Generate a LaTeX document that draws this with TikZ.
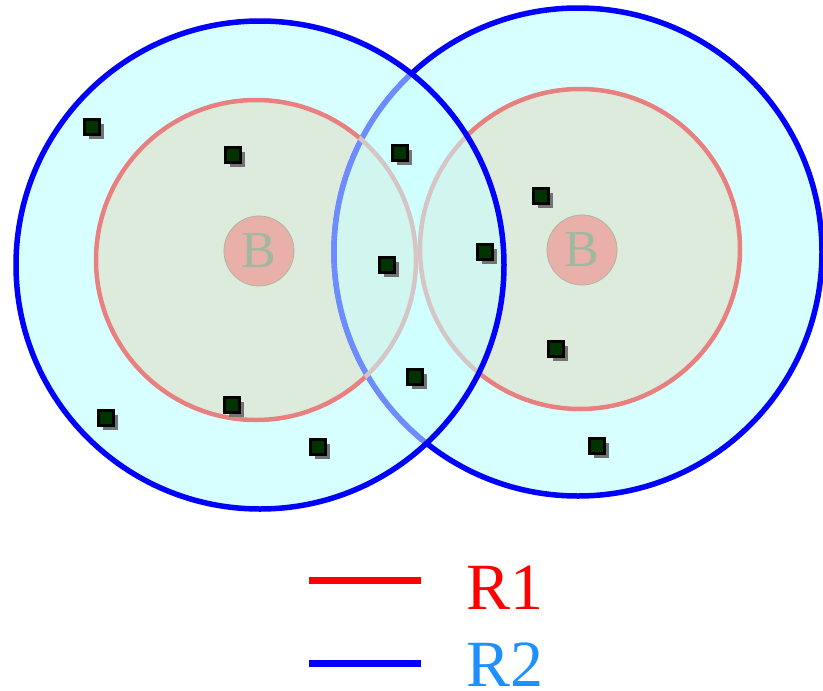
\documentclass[tikz,border=0pt]{standalone}
\usepackage{fontspec}
\setmainfont{Liberation Serif}
\newfontfamily\legfont{Liberation Serif}
\usetikzlibrary{shadows}
\definecolor{outerfill}{HTML}{D8FFFF}
\definecolor{lensfill}{HTML}{C8FFFF}
\definecolor{innerfill}{HTML}{DCEBDC}
\definecolor{redline}{HTML}{E88080}
\definecolor{bfill}{HTML}{E8B0A8}
\definecolor{btext}{HTML}{A0B8A0}
\definecolor{devgreen}{HTML}{003300}
\definecolor{rtwo}{HTML}{1E90FF}
\begin{document}
\begin{tikzpicture}[x=1pt,y=-1pt,
  blueline/.style={draw=blue,line width=5.5pt},
  redcirc/.style={draw=redline,line width=4.5pt},
  bnode/.style={circle,fill=bfill,draw=btext!80!bfill,line width=0.8pt,minimum size=70pt,inner sep=0pt,text=btext,font=\legfont\fontsize{52}{52}\selectfont},
  dev/.style={rectangle,draw=black,line width=2.6pt,fill=devgreen,minimum size=15pt,inner sep=0pt,
    drop shadow={shadow xshift=4.5pt,shadow yshift=-4.5pt,fill=black!55,opacity=1}},
  legline/.style={line width=7pt},
  legtext/.style={anchor=base west,inner sep=0pt,text depth=0pt,font=\legfont\fontsize{66}{66}\selectfont}]
\useasboundingbox (0,0) rectangle (823,691);
% coordinates
\coordinate (cL) at (260,265);
\coordinate (cR) at (578,252);
\coordinate (iL) at (256,260);
\coordinate (iR) at (580,249);
% outer fills
\fill[outerfill] (cL) circle (244);
\fill[outerfill] (cR) circle (244);
% inner fills
\fill[innerfill] (iL) circle (160);
\fill[innerfill] (iR) circle (160);
% right blue circle and red circles
\draw[blueline] (cR) circle (244);
\draw[redcirc] (iL) circle (160);
\draw[redcirc] (iR) circle (160);
% lens overlay
\begin{scope}
  \clip (cR) circle (246.75);
  \fill[lensfill,opacity=0.55] (cL) circle (244);
\end{scope}
% left blue circle on top
\draw[blueline] (cL) circle (244);
% base stations
\node[bnode] (BL) at (259,251) {B};
\node[bnode] (BR) at (582,250) {B};
% devices
\node[dev] (d1) at (92,127) {};
\node[dev] (d2) at (233,155) {};
\node[dev] (d3) at (400,153) {};
\node[dev] (d4) at (541,196) {};
\node[dev] (d5) at (387,265) {};
\node[dev] (d6) at (485,252) {};
\node[dev] (d7) at (556,349) {};
\node[dev] (d8) at (415,377) {};
\node[dev] (d9) at (232,405) {};
\node[dev] (d10) at (106,418) {};
\node[dev] (d11) at (318,447) {};
\node[dev] (d12) at (597,446) {};
% legend
\coordinate (l1a) at (309,580);
\coordinate (l1b) at (421,580);
\coordinate (l2a) at (309,663);
\coordinate (l2b) at (421,663);
\draw[legline,red] (l1a) -- (l1b);
\draw[legline,blue] (l2a) -- (l2b);
\node[legtext,text=red] (R1) at (466,609) {R1};
\node[legtext,text=rtwo] (R2) at (466,686) {R2};
\end{tikzpicture}
\end{document}
